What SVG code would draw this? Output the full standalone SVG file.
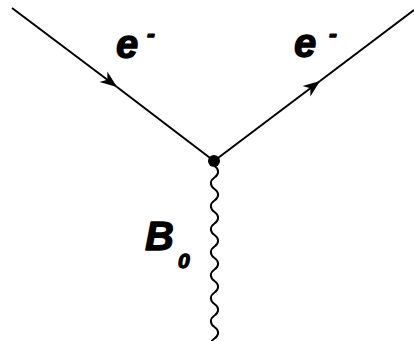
<svg xmlns="http://www.w3.org/2000/svg" width="414" height="341" viewBox="0 0 414 341">
<style>
.ln{fill:none;stroke:#000;stroke-width:2}
.lbl{font-family:"Liberation Sans",Arial,sans-serif;font-weight:bold;font-style:italic;fill:#000;stroke:#000;stroke-width:1.3;stroke-linejoin:round}
</style>
<defs>
<marker id="arr" markerUnits="userSpaceOnUse" markerWidth="20" markerHeight="16" viewBox="-18 -8 20 16" refX="0" refY="0" orient="auto">
<path d="M0,0 L-17,-6.5 L-12,0 L-17,6.5 Z" fill="#000"/>
</marker>
</defs>
<rect width="414" height="341" fill="#fff"/>
<g id="connectors">
<line class="ln" x1="12" y1="8" x2="117" y2="87" marker-end="url(#arr)"/>
<line class="ln" x1="117" y1="87" x2="214" y2="161"/>
<line class="ln" x1="214" y1="161" x2="320" y2="81" marker-end="url(#arr)"/>
<line class="ln" x1="320" y1="81" x2="414" y2="10"/>
<path class="ln" d="M214.5,166 c4.8,3.2 4.8,8.3 0,11.5 s-4.8,8.3 0,11.5 s4.8,8.3 0,11.5 s-4.8,8.3 0,11.5 s4.8,8.3 0,11.5 s-4.8,8.3 0,11.5 s4.8,8.3 0,11.5 s-4.8,8.3 0,11.5 s4.8,8.3 0,11.5 s-4.8,8.3 0,11.5 s4.8,8.3 0,11.5 s-4.8,8.3 0,11.5 s4.8,8.3 0,11.5 s-4.8,8.3 0,11.5 s4.8,8.3 0,11.5 s-4.8,8.3 0,11.5"/>
</g>
<g id="vertex"><circle cx="214" cy="161" r="6" fill="#000"/></g>
<g id="label-e-in"><text class="lbl" x="116" y="58" font-size="40">e</text><text class="lbl" x="147" y="42" font-size="24">-</text></g>
<g id="label-e-out"><text class="lbl" x="294" y="57" font-size="40">e</text><text class="lbl" x="329" y="42" font-size="24">-</text></g>
<g id="label-B0"><text class="lbl" x="145" y="250" font-size="40">B</text><text class="lbl" x="178" y="268" font-size="21">0</text></g>
</svg>
